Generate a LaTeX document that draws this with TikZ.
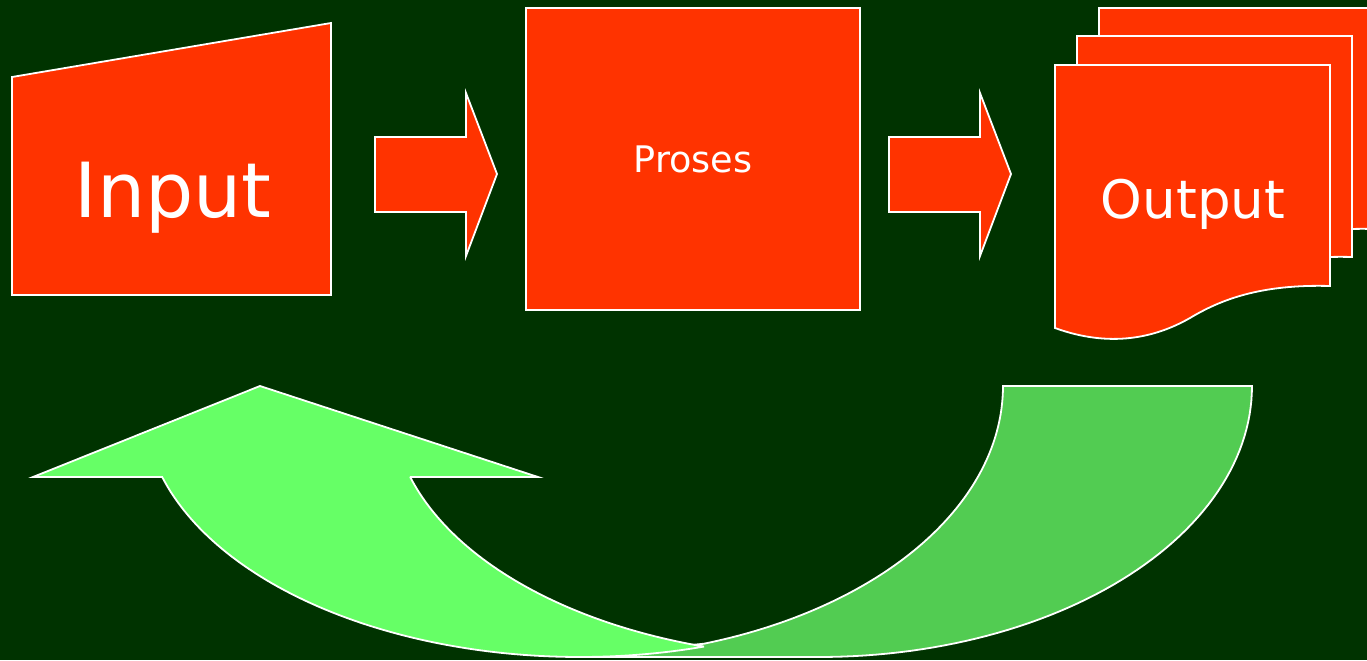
\documentclass[tikz,border=0pt]{standalone}
\usepackage{fontspec}
\setmainfont{DejaVu Sans}
\definecolor{bg}{HTML}{003300}
\definecolor{boxred}{HTML}{FF3300}
\definecolor{lightgr}{HTML}{66FF66}
\definecolor{darkgr}{HTML}{52CC52}
\begin{document}
\begin{tikzpicture}[x=0.5pt,y=-0.5pt,
  outline/.style={draw=white,line width=0.9pt,line join=miter},
  shapebox/.style={outline,fill=boxred},
  lbl/.style={text=white,inner sep=0pt,anchor=base}]
\useasboundingbox (0,0) rectangle (1367,660);
\clip (0,0) rectangle (1367,660);
\fill[bg] (0,0) rectangle (1367,660);

% Input (manual input shape)
\draw[shapebox] (12,77) -- (331,23) -- (331,295) -- (12,295) -- cycle;
\node[lbl,font=\fontsize{38}{45}\selectfont] (input) at (173,217) {Input};

% block arrows
\draw[shapebox] (375,137) -- (466,137) -- (466,93) -- (497,174) -- (466,256) -- (466,212) -- (375,212) -- cycle;
\draw[shapebox] (889,137) -- (980,137) -- (980,93) -- (1011,174) -- (980,256) -- (980,212) -- (889,212) -- cycle;

% Proses
\node[shapebox,minimum width=167pt,minimum height=151pt,inner sep=0pt,text=white,
      font=\fontsize{18.3}{22}\selectfont] (proses) at (693,159) {Proses};

% Output (multi-document)
\foreach \dx/\dy in {44/-57,22/-29,0/0}{
  \draw[shapebox,shift={(\dx,\dy)}] (1055,65) -- (1330,65) -- (1330,286)
    .. controls (1260,284) and (1220,300) .. (1190,318)
    .. controls (1155,338) and (1110,348) .. (1055,328) -- cycle;
}
\node[lbl,font=\fontsize{26.5}{32}\selectfont] (output) at (1193,218) {Output};

% curved up arrow: back (darker) part
\draw[outline,fill=darkgr] (1004,386) -- (1252,386)
  -- plot[domain=0:90,samples=60,variable=\t] ({819+433*cos(\t)},{386+271*sin(\t)})
  -- (570,657)
  -- plot[domain=72:0,samples=60,variable=\t] ({570+433*cos(\t)},{386+271*sin(\t)})
  -- cycle;

% curved up arrow: front (lighter) part with head
\draw[outline,fill=lightgr] (162,477) -- (33,477) -- (260,386) -- (538,477) -- (410,477)
  -- plot[domain=163.4:106.52,samples=60,variable=\t] ({828+436*cos(\t)},{405+252*sin(\t)})
  -- plot[domain=73.48:163.4,samples=80,variable=\t] ({580+436*cos(\t)},{405+252*sin(\t)})
  -- cycle;
\end{tikzpicture}
\end{document}
